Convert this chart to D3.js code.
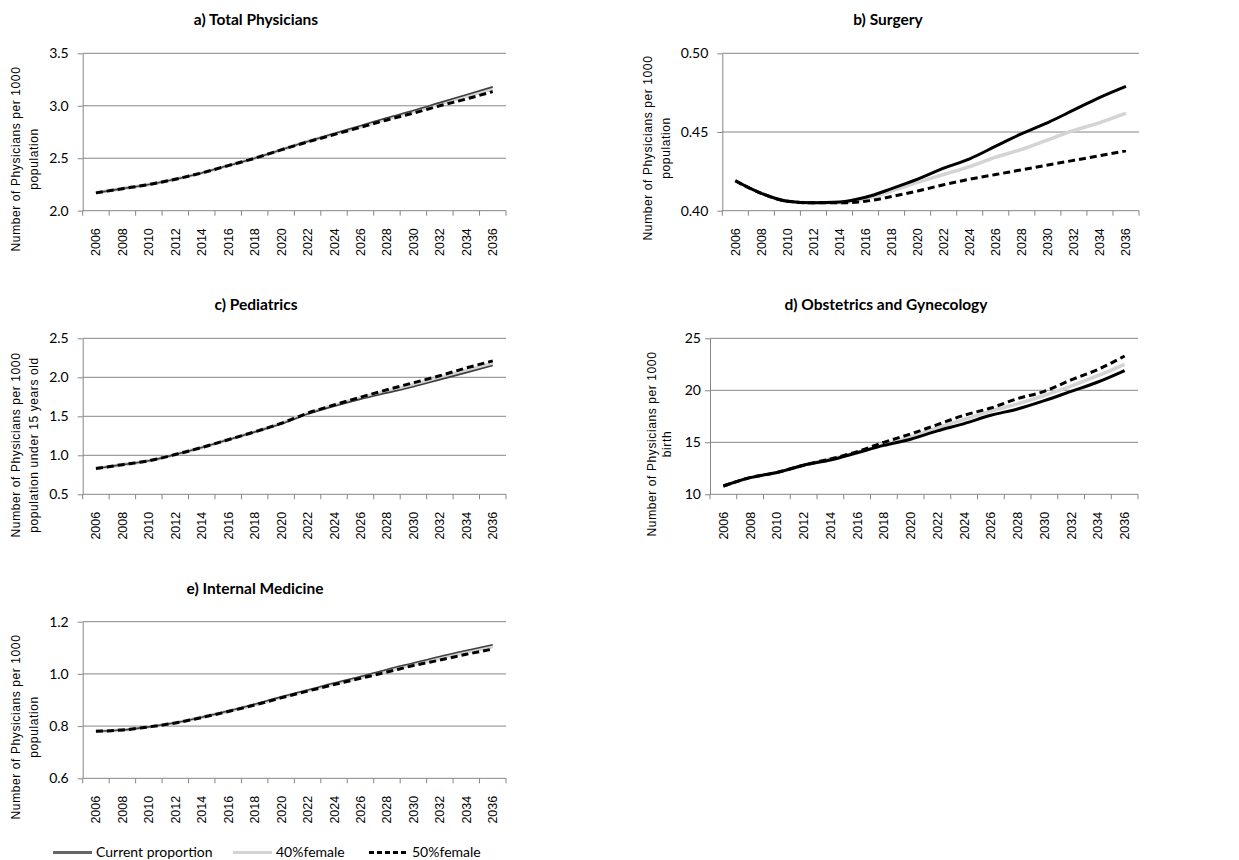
<!DOCTYPE html>
<html>
<head>
<meta charset="utf-8">
<title>Physicians per 1000</title>
<script src="https://cdn.jsdelivr.net/npm/d3@7"></script>
<style>
  body { margin: 0; background: #fff; }
  svg { display: block; }
  .title { font-family: Lato, "Open Sans", sans-serif; font-weight: bold; font-size: 15.5px; fill: #000; }
  .ytick text { font-family: Lato, sans-serif; font-size: 14px; fill: #000; }
  .xlab { font-family: "Liberation Sans", Arial, sans-serif; font-size: 12.5px; fill: #000; }
  .ytitle { font-family: "Liberation Sans", Arial, sans-serif; font-size: 12px; letter-spacing: 0.6px; fill: #000; }
  .legend text { font-family: Lato, sans-serif; font-size: 14px; fill: #000; }
</style>
</head>
<body>
<div id="chart"></div>
<script>
const years = [2006, 2008, 2010, 2012, 2014, 2016, 2018, 2020, 2022, 2024, 2026, 2028, 2030, 2032, 2034, 2036];
const seriesNames = ["Current proportion", "40%female", "50%female"];

// a) Total Physicians
const totalCurrent = [2.17, 2.21, 2.25, 2.30, 2.36, 2.43, 2.50, 2.58, 2.66, 2.735, 2.81, 2.885, 2.955, 3.03, 3.105, 3.18];
const total40 = [2.17, 2.21, 2.25, 2.30, 2.36, 2.43, 2.50, 2.58, 2.66, 2.73, 2.80, 2.875, 2.945, 3.02, 3.09, 3.16];
const total50 = [2.17, 2.21, 2.25, 2.30, 2.36, 2.43, 2.50, 2.58, 2.655, 2.725, 2.795, 2.865, 2.93, 3.00, 3.065, 3.135];

// b) Surgery
const surgCurrent = [0.419, 0.411, 0.406, 0.405, 0.4055, 0.4085, 0.414, 0.420, 0.427, 0.433, 0.441, 0.449, 0.456, 0.464, 0.472, 0.479];
const surg40 = [0.419, 0.411, 0.406, 0.405, 0.405, 0.4075, 0.4125, 0.418, 0.423, 0.428, 0.434, 0.439, 0.445, 0.451, 0.456, 0.462];
const surg50 = [0.419, 0.411, 0.406, 0.405, 0.405, 0.406, 0.409, 0.4125, 0.4165, 0.420, 0.423, 0.426, 0.429, 0.432, 0.435, 0.438];

// c) Pediatrics
const pedCurrent = [0.83, 0.88, 0.93, 1.01, 1.10, 1.20, 1.30, 1.40, 1.53, 1.63, 1.72, 1.80, 1.88, 1.97, 2.06, 2.15];
const ped40 = [0.83, 0.88, 0.93, 1.01, 1.10, 1.20, 1.30, 1.41, 1.535, 1.64, 1.735, 1.82, 1.905, 1.995, 2.09, 2.18];
const ped50 = [0.83, 0.88, 0.93, 1.01, 1.10, 1.20, 1.30, 1.41, 1.54, 1.645, 1.745, 1.84, 1.93, 2.02, 2.12, 2.21];

// d) Obstetrics and Gynecology
const obCurrent = [10.8, 11.6, 12.1, 12.8, 13.3, 14.0, 14.7, 15.3, 16.1, 16.8, 17.6, 18.2, 19.0, 19.9, 20.8, 21.9];
const ob40 = [10.8, 11.6, 12.1, 12.8, 13.4, 14.0, 14.8, 15.5, 16.4, 17.2, 18.0, 18.7, 19.5, 20.4, 21.4, 22.5];
const ob50 = [10.8, 11.6, 12.1, 12.8, 13.4, 14.1, 15.0, 15.8, 16.7, 17.6, 18.3, 19.2, 19.9, 21.0, 22.0, 23.3];

// e) Internal Medicine
const imCurrent = [0.78, 0.785, 0.797, 0.813, 0.834, 0.858, 0.884, 0.912, 0.938, 0.965, 0.99, 1.017, 1.042, 1.067, 1.09, 1.112];
const im40 = [0.78, 0.785, 0.797, 0.813, 0.834, 0.857, 0.882, 0.91, 0.936, 0.962, 0.986, 1.012, 1.037, 1.06, 1.084, 1.105];
const im50 = [0.78, 0.785, 0.797, 0.812, 0.833, 0.856, 0.881, 0.908, 0.934, 0.959, 0.983, 1.007, 1.032, 1.053, 1.075, 1.095];

const titles = ["a) Total Physicians", "b) Surgery", "c) Pediatrics", "d) Obstetrics and Gynecology", "e) Internal Medicine"];
const yTitles = [
  ["Number of Physicians per 1000", "population"],
  ["Number of Physicians per 1000", "population"],
  ["Number of Physicians per 1000", "population under 15 years old"],
  ["Number of Physicians per 1000", "birth"],
  ["Number of Physicians per 1000", "population"]
];
const yTicks = [
  [2.0, 2.5, 3.0, 3.5],
  [0.40, 0.45, 0.50],
  [0.5, 1.0, 1.5, 2.0, 2.5],
  [10, 15, 20, 25],
  [0.6, 0.8, 1.0, 1.2]
];
const yFormats = [".1f", ".2f", ".1f", "d", ".1f"];
const seriesData = [
  [totalCurrent, total40, total50],
  [surgCurrent, surg40, surg50],
  [pedCurrent, ped40, ped50],
  [obCurrent, ob40, ob50],
  [imCurrent, im40, im50]
];

// layout of each panel (pixels)
const layout = [
  { x0: 82.7, x1: 506, y0: 53.3, y1: 210.7, tx: 256, ty: 25, ax1: 16, ax2: 34, ay: 159, strong: false },
  { x0: 722.3, x1: 1139, y0: 53.3, y1: 210.7, tx: 888, ty: 25, ax1: 648, ax2: 666, ay: 148, strong: true },
  { x0: 82.7, x1: 506, y0: 338.3, y1: 494.3, tx: 256, ty: 310, ax1: 16, ax2: 34, ay: 445, strong: false },
  { x0: 710, x1: 1138, y0: 338.3, y1: 494.3, tx: 886, ty: 310, ax1: 652, ax2: 667, ay: 444, strong: true },
  { x0: 82.7, x1: 506, y0: 621.7, y1: 778.3, tx: 255, ty: 594, ax1: 16, ax2: 34, ay: 727, strong: false }
];

const w = 1239, h = 860;
const gridColor = "#868686";

const svg = d3.select("#chart").append("svg")
  .attr("width", w)
  .attr("height", h);

svg.append("rect").attr("width", w).attr("height", h).attr("fill", "#fff");

function lineStyle(i, strong) {
  if (i === 0) return strong ? { stroke: "#000", width: 3, dash: null } : { stroke: "#404040", width: 1.6, dash: null };
  if (i === 1) return { stroke: "#d4d4d4", width: 3.5, dash: null };
  return { stroke: "#000", width: 3, dash: "7,4" };
}

layout.forEach((L, p) => {
  const g = svg.append("g");

  const x = d3.scaleBand().domain(years).range([L.x0, L.x1]).paddingInner(0).paddingOuter(0);
  const y = d3.scaleLinear().domain(d3.extent(yTicks[p])).range([L.y1, L.y0]);

  // gridlines
  g.selectAll(".grid")
    .data(yTicks[p].slice(1))
    .enter()
    .append("line")
    .attr("x1", L.x0).attr("x2", L.x1)
    .attr("y1", d => y(d)).attr("y2", d => y(d))
    .attr("stroke", gridColor).attr("stroke-width", 1);

  // y axis
  const yAxis = d3.axisLeft(y)
    .tickValues(yTicks[p])
    .tickFormat(d3.format(yFormats[p]))
    .tickSize(5)
    .tickSizeOuter(0)
    .tickPadding(p === 3 ? 4 : 9);
  const ya = g.append("g")
    .attr("class", "ytick")
    .attr("transform", "translate(" + L.x0 + ",0)")
    .call(yAxis);
  ya.select(".domain").attr("stroke", gridColor);
  ya.selectAll(".tick line").attr("stroke", gridColor);
  ya.selectAll("text").attr("font-family", null).attr("font-size", null);

  // x axis line + boundary ticks
  g.append("line")
    .attr("x1", L.x0).attr("x2", L.x1)
    .attr("y1", L.y1).attr("y2", L.y1)
    .attr("stroke", gridColor);
  const bounds = years.map(d => x(d)).concat([L.x1]);
  g.selectAll(".xt")
    .data(bounds)
    .enter()
    .append("line")
    .attr("x1", d => d).attr("x2", d => d)
    .attr("y1", L.y1).attr("y2", L.y1 + 5)
    .attr("stroke", gridColor);

  // x labels rotated
  g.selectAll(".xlab")
    .data(years)
    .enter()
    .append("text")
    .attr("class", "xlab")
    .attr("transform", d => "translate(" + (x(d) + x.bandwidth() / 2) + "," + (L.y1 + 17.5) + ") rotate(-90)")
    .attr("text-anchor", "end")
    .attr("dy", "0.36em")
    .text(d => d);

  // lines: 40% first, then current, then 50% on top
  const line = d3.line()
    .x((d, i) => x(years[i]) + x.bandwidth() / 2)
    .y(d => y(d))
    .curve(d3.curveMonotoneX);

  [1, 0, 2].forEach(i => {
    const s = lineStyle(i, L.strong);
    g.append("path")
      .datum(seriesData[p][i])
      .attr("fill", "none")
      .attr("stroke", s.stroke)
      .attr("stroke-width", s.width)
      .attr("stroke-dasharray", s.dash)
      .attr("stroke-linejoin", "round")
      .attr("d", line);
  });

  // title
  g.append("text")
    .attr("class", "title")
    .attr("x", L.tx).attr("y", L.ty)
    .attr("text-anchor", "middle")
    .text(titles[p]);

  // y title (two lines)
  [L.ax1, L.ax2].forEach((ax, k) => {
    g.append("text")
      .attr("class", "ytitle")
      .attr("transform", "translate(" + ax + "," + L.ay + ") rotate(-90)")
      .attr("text-anchor", "middle")
      .attr("dy", "0.35em")
      .text(yTitles[p][k]);
  });
});

// legend
const legendX = [53, 233, 369];
const legend = svg.append("g").attr("class", "legend");
seriesNames.forEach((name, i) => {
  const s = i === 0 ? { stroke: "#666", width: 3, dash: null } : lineStyle(i, false);
  legend.append("line")
    .attr("x1", legendX[i]).attr("x2", legendX[i] + 39)
    .attr("y1", 852.5).attr("y2", 852.5)
    .attr("stroke", s.stroke)
    .attr("stroke-width", i === 1 ? 3 : s.width)
    .attr("stroke-dasharray", i === 2 ? "5,3" : null);
  legend.append("text")
    .attr("x", legendX[i] + 43)
    .attr("y", 852.5)
    .attr("dy", "0.35em")
    .text(name);
});
</script>
</body>
</html>
